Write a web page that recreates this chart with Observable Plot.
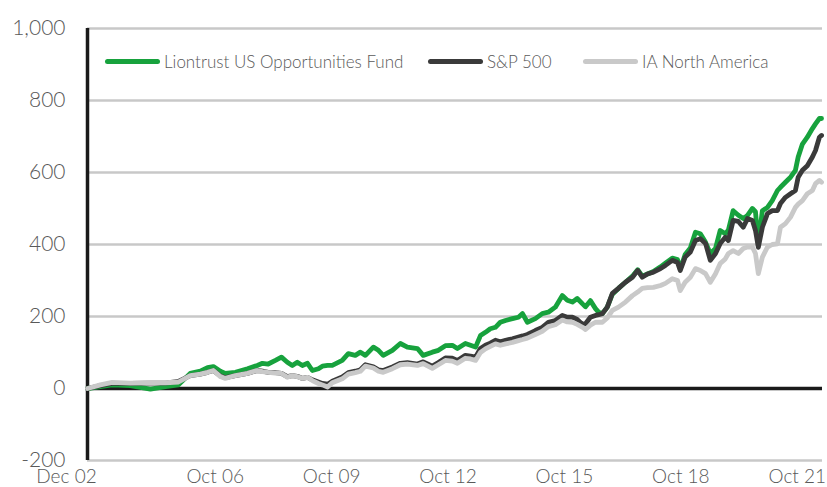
<!DOCTYPE html>
<html>
<head>
<meta charset="utf-8">
<script src="https://cdn.jsdelivr.net/npm/d3@7"></script>
<script src="https://cdn.jsdelivr.net/npm/@observablehq/plot@0.6"></script>
<style>
  html, body { margin: 0; padding: 0; background: #fff; }
  #wrap { position: relative; width: 827px; height: 487px; font-family: "Lato", sans-serif; font-weight: 300; }
  .leg { position: absolute; top: 50px; height: 22px; display: flex; align-items: center; font-size: 17px; color: #595959; white-space: nowrap; }
  .sw { display: inline-block; width: 55px; height: 5px; border-radius: 3px; margin-right: 4px; }
</style>
</head>
<body>
<div id="wrap"></div>
<script>
const dates = ["2002-12-01","2003-04-01","2003-07-21","2004-01-09","2004-07-15","2004-12-05","2005-04-05","2005-07-25","2005-10-28","2006-01-04","2006-02-28","2006-05-05","2006-06-20","2006-09-23","2007-01-15","2007-04-17","2007-06-05","2007-07-29","2007-10-05","2007-12-01","2008-01-25","2008-03-12","2008-04-28","2008-06-15","2008-08-02","2008-09-17","2008-11-13","2008-12-20","2009-02-07","2009-03-23","2009-06-25","2009-08-21","2009-10-26","2009-12-13","2010-01-29","2010-04-14","2010-06-01","2010-07-16","2010-10-10","2010-12-24","2011-02-28","2011-06-03","2011-07-27","2011-10-21","2011-12-17","2012-02-21","2012-04-26","2012-06-13","2012-08-27","2012-10-14","2012-12-01","2013-01-16","2013-03-04","2013-04-19","2013-06-06","2013-07-22","2013-09-09","2013-11-13","2014-01-09","2014-02-16","2014-04-03","2014-06-17","2014-08-21","2014-10-17","2014-12-22","2015-02-26","2015-04-14","2015-06-01","2015-07-16","2015-09-04","2015-10-02","2015-11-17","2016-01-04","2016-02-02","2016-03-09","2016-04-24","2016-06-11","2016-08-07","2016-10-12","2016-12-17","2017-02-04","2017-03-19","2017-05-07","2017-07-02","2017-09-07","2017-10-23","2017-12-27","2018-02-14","2018-03-12","2018-04-27","2018-06-15","2018-08-02","2018-09-17","2018-11-05","2018-12-20","2019-02-07","2019-03-23","2019-05-10","2019-06-08","2019-07-23","2019-09-10","2019-10-26","2019-12-05","2020-01-20","2020-02-18","2020-03-16","2020-04-23","2020-06-10","2020-07-25","2020-09-12","2020-10-10","2020-11-26","2021-01-13","2021-02-28","2021-03-26","2021-05-05","2021-06-20","2021-08-07","2021-09-05","2021-10-12","2021-11-01"];

const fund = [0,5,10,8,-2,5,10,42,48,58,61,48,42,45,55,64,70,68,78,87,73,64,73,64,70,50,55,62,64,64,78,97,92,101,92,115,106,92,106,125,115,111,92,101,106,119,120,111,125,120,115,147,156,166,170,184,189,194,198,208,184,194,208,212,226,258,245,240,250,235,227,244,222,212,208,226,262,278,295,312,330,312,318,325,338,348,362,358,332,372,390,434,430,406,375,389,439,430,440,494,481,472,481,500,491,403,494,503,522,550,559,573,587,606,643,679,698,722,735,750,750];

const sp500 = [0,8,14,14,15,15,20,36,40,45,50,35,30,36,42,50,48,45,44,42,33,36,34,28,31,24,18,14,12,20,32,44,48,52,66,60,52,50,60,70,72,68,74,62,72,85,84,78,92,90,87,111,120,126,134,130,134,138,143,146,150,161,170,184,189,203,198,198,192,178,180,198,203,205,208,226,264,278,295,309,328,309,318,323,333,342,356,350,328,365,379,411,416,403,356,375,403,420,411,467,464,448,472,467,439,392,448,486,494,494,514,531,541,550,587,606,619,643,661,698,703];

const iaNA = [0,10,17,15,16,16,18,36,40,45,50,33,28,36,42,50,47,45,43,42,31,36,33,28,31,22,14,10,4,16,27,40,44,48,62,57,48,45,55,66,68,64,69,56,66,78,76,70,84,82,78,100,110,117,124,120,124,128,133,136,140,150,159,172,177,190,185,184,178,170,164,176,184,184,184,196,217,226,240,258,268,278,280,281,286,292,305,300,272,295,309,333,328,319,295,319,347,360,375,383,375,389,393,393,375,319,365,393,400,402,448,458,476,503,512,522,541,550,569,578,573];

const seriesNames = ["Liontrust US Opportunities Fund", "S&P 500", "IA North America"];
const seriesColors = ["#17a23d", "#3a3a3a", "#c9c9c9"];
const yTicks = [-200, 0, 200, 400, 600, 800, 1000];
const gridValues = [-200, 200, 400, 600, 800, 1000];
const xTickDates = ["2002-12-01","2006-10-01","2009-10-01","2012-10-01","2015-10-01","2018-10-01","2021-10-01"];
const xTickLabels = ["Dec 02","Oct 06","Oct 09","Oct 12","Oct 15","Oct 18","Oct 21"];

const parse = d3.utcParse("%Y-%m-%d");
const allSeries = [fund, sp500, iaNA];
const rows = [];
allSeries.forEach((vals, si) => {
  vals.forEach((v, i) => rows.push({date: parse(dates[i]), value: v, series: seriesNames[si]}));
});
const tickDates = xTickDates.map(parse);
const labelFor = new Map(tickDates.map((d, i) => [+d, xTickLabels[i]]));
const x0 = parse(dates[0]);
const xEnd = parse("2021-11-10");

const chart = Plot.plot({
  width: 827,
  height: 487,
  marginLeft: 87,
  marginRight: 5,
  marginTop: 28,
  marginBottom: 27,
  style: {fontFamily: "Lato, sans-serif", fontWeight: 300, fontSize: "20px", color: "#595959", background: "#fff", overflow: "visible"},
  x: {type: "utc", domain: [x0, xEnd], label: null},
  y: {domain: [-200, 1000], label: null},
  color: {domain: seriesNames, range: seriesColors},
  marks: [
    Plot.ruleY(gridValues, {stroke: "#c8c8c8", strokeWidth: 2.5}),
    Plot.ruleY([0], {stroke: "#1a1a1a", strokeWidth: 3.5}),
    Plot.ruleX([x0], {y1: -200, y2: 1000, stroke: "#1a1a1a", strokeWidth: 3.5}),
    Plot.axisY({ticks: yTicks, tickSize: 0, tickPadding: 22, label: null, tickFormat: d => d.toLocaleString("en-US"), fontSize: 21, fill: "#595959"}),
    Plot.axisX({ticks: tickDates, tickSize: 0, tickPadding: 9, label: null, dx: -21, tickFormat: d => labelFor.get(+d), fontSize: 19, fill: "#595959"}),
    Plot.line(rows, {x: "date", y: "value", z: "series", stroke: "series", strokeWidth: 4.8, strokeLinejoin: "round", strokeLinecap: "round"})
  ]
});

const wrap = document.getElementById("wrap");
wrap.appendChild(chart);
const legLeft = [105, 428, 583];
seriesNames.forEach((name, i) => {
  const item = document.createElement("div");
  item.className = "leg";
  item.style.left = legLeft[i] + "px";
  const sw = document.createElement("span");
  sw.className = "sw";
  sw.style.background = seriesColors[i];
  const tx = document.createElement("span");
  tx.textContent = name;
  item.appendChild(sw);
  item.appendChild(tx);
  wrap.appendChild(item);
});
</script>
</body>
</html>
